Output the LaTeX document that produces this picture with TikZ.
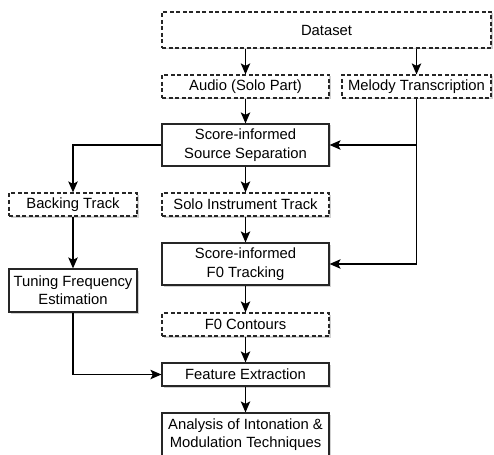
\documentclass[tikz,border=0pt]{standalone}
\usepackage{fontspec}
\setmainfont{Liberation Sans}
\usetikzlibrary{arrows.meta,shadows}
\begin{document}
\begin{tikzpicture}[x=1pt,y=-1pt,
  base/.style={draw=black!85, line width=1.2pt, fill=white, align=center, inner sep=0pt,
    font=\fontsize{14.8}{18.4}\selectfont,
    drop shadow={shadow xshift=1.5pt, shadow yshift=-1.5pt, opacity=0.18, fill=black}},
  solidbox/.style={base},
  dashbox/.style={base, dash pattern=on 4pt off 2.5pt},
  arr/.style={draw=black, line width=1.2pt, -{Stealth[length=11pt,width=9.5pt,inset=2.5pt]}}]
\clip (0,0) rectangle (494,454);
\fill[white] (0,0) rectangle (494,454);
\node[dashbox, minimum width=329pt, minimum height=36pt] (dataset) at (326.5,30) {Dataset};
\node[dashbox, minimum width=167pt, minimum height=23pt] (audio) at (245.5,86.5) {Audio (Solo Part)};
\node[dashbox, minimum width=149pt, minimum height=23pt] (melody) at (416.5,86.5) {Melody Transcription};
\node[solidbox, minimum width=167pt, minimum height=42pt] (sss) at (245.5,145) {Score-informed\\Source Separation};
\node[dashbox, minimum width=128pt, minimum height=23pt] (backing) at (73,204.5) {Backing Track};
\node[dashbox, minimum width=167pt, minimum height=23pt] (solo) at (245.5,204.5) {Solo Instrument Track};
\node[solidbox, minimum width=167pt, minimum height=42pt] (f0track) at (245.5,264) {Score-informed\\F0 Tracking};
\node[solidbox, minimum width=128pt, minimum height=43pt] (tuning) at (73,290.5) {Tuning Frequency\\Estimation};
\node[dashbox, minimum width=167pt, minimum height=23pt] (contours) at (245.5,324.5) {F0 Contours};
\node[solidbox, minimum width=167pt, minimum height=23pt] (feature) at (245.5,374.5) {Feature Extraction};
\node[solidbox, minimum width=167pt, minimum height=43pt] (analysis) at (245.5,434.5) {Analysis of Intonation \&\\Modulation Techniques};

\draw[arr] (dataset.south -| audio.north) -- (audio.north);
\draw[arr] (dataset.south -| melody.north) -- (melody.north);
\draw[arr] (audio) -- (sss);
\draw[arr] (melody.south) |- (sss.east);
\draw[arr] (melody.south) |- (f0track.east);
\draw[arr] (sss.west) -| (backing.north);
\draw[arr] (sss) -- (solo);
\draw[arr] (solo) -- (f0track);
\draw[arr] (backing) -- (tuning);
\draw[arr] (f0track) -- (contours);
\draw[arr] (contours) -- (feature);
\draw[arr] (tuning.south) |- (feature.west);
\draw[arr] (feature) -- (analysis);
\end{tikzpicture}
\end{document}
